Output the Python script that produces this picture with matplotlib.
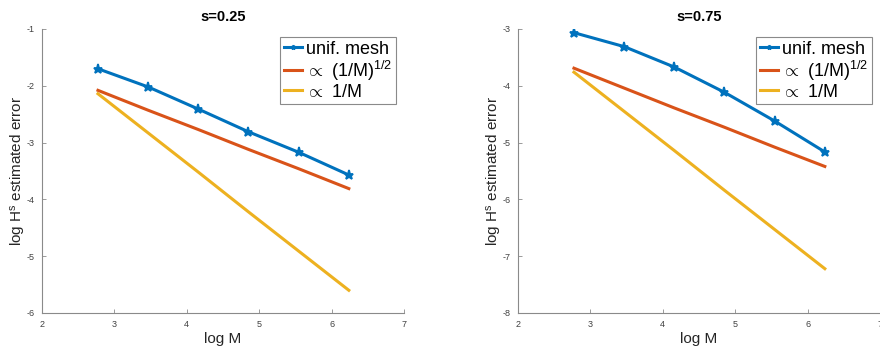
import matplotlib
matplotlib.use("Agg")
import matplotlib.pyplot as plt

plt.rcParams['font.family'] = ['Liberation Sans', 'DejaVu Sans']
plt.rcParams['mathtext.fontset'] = 'custom'
plt.rcParams['mathtext.rm'] = 'Liberation Sans'
plt.rcParams['mathtext.it'] = 'Liberation Sans:italic'
plt.rcParams['axes.unicode_minus'] = False

log_M = [2.773, 3.466, 4.159, 4.852, 5.545, 6.238]

titles = ["s=0.25", "s=0.75"]
# s = 0.25
err_025 = [-1.70, -2.02, -2.41, -2.81, -3.17, -3.57]
half_025 = [-2.08, -2.43, -2.77, -3.12, -3.46, -3.81]
one_025 = [-2.14, -2.83, -3.52, -4.22, -4.91, -5.60]
# s = 0.75
err_075 = [-3.065, -3.31, -3.67, -4.115, -4.62, -5.165]
half_075 = [-3.69, -4.04, -4.39, -4.73, -5.08, -5.42]
one_075 = [-3.76, -4.45, -5.14, -5.84, -6.53, -7.22]

ylims = [(-6, -1), (-8, -3)]
xlim = (2, 7)

labels = ["unif. mesh", r"$\propto$ (1/M)$^{1/2}$", r"$\propto$ 1/M"]
colors = ["#0072BD", "#D95319", "#EDB120"]

fig = plt.figure(figsize=(8.8, 3.48), dpi=100)
W, H = 880, 348
axes_px = [(42, 29, 362, 284), (518, 29, 362, 284)]
data = [(err_025, half_025, one_025), (err_075, half_075, one_075)]

for i, (x0, y0, w, h) in enumerate(axes_px):
    ax = fig.add_axes([x0 / W, (H - y0 - h) / H, w / W, h / H])
    e, hf, on = data[i]
    ax.plot(log_M, e, color=colors[0], lw=2.2, marker='*', ms=6.5, mew=1.3, label=labels[0])
    ax.plot(log_M, hf, color=colors[1], lw=2.2, label=labels[1])
    ax.plot(log_M, on, color=colors[2], lw=2.2, label=labels[2])
    ax.set_xlim(*xlim)
    ax.set_ylim(*ylims[i])
    ax.set_xticks(range(2, 8))
    ax.set_yticks(range(ylims[i][0], ylims[i][1] + 1))
    for sp in ['top', 'right']:
        ax.spines[sp].set_visible(False)
    for sp in ['left', 'bottom']:
        ax.spines[sp].set_color('#8a8a8a')
        ax.spines[sp].set_linewidth(0.8)
    ax.tick_params(direction='in', length=3, width=0.6, colors='#8a8a8a',
                   labelsize=6.5, labelcolor='#404040', pad=5)
    ax.set_xlabel("log M", fontsize=11, color='#262626', labelpad=2)
    ax.set_ylabel(r"log H$^{\mathrm{s}}$ estimated error", fontsize=11, color='#262626', labelpad=-1)
    ax.set_title(titles[i], fontsize=10.5, fontweight='bold', pad=6)
    leg = ax.legend(loc='upper right', fontsize=13, handlelength=1.0, handletextpad=0.25,
                    borderaxespad=0.45, borderpad=0.2, labelspacing=0.05,
                    fancybox=False, framealpha=1, edgecolor='#8a8a8a', markerscale=0.5)
    leg.get_frame().set_linewidth(0.8)

fig.savefig("out.png", dpi=100)
